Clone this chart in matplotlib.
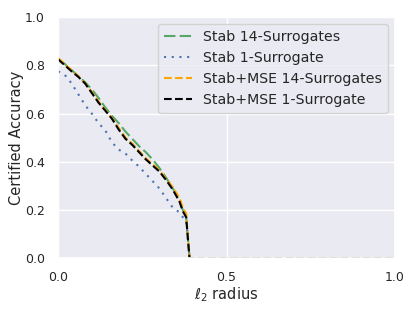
import matplotlib
matplotlib.use("Agg")
import matplotlib.pyplot as plt
import seaborn as sns

sns.set_theme(style="darkgrid")

radius = [0, 0.02, 0.04, 0.06, 0.08, 0.10, 0.12, 0.14, 0.16, 0.18, 0.20, 0.22, 0.24,
          0.26, 0.28, 0.30, 0.32, 0.34, 0.36, 0.37, 0.38, 0.39, 0.40, 1.0]
stab_14 = [0.825, 0.805, 0.78, 0.755, 0.73, 0.70, 0.665, 0.625, 0.59, 0.56, 0.525, 0.495,
           0.465, 0.44, 0.41, 0.375, 0.335, 0.29, 0.24, 0.20, 0.17, 0.0, 0.0, 0.0]
stab_1 = [0.775, 0.76, 0.725, 0.68, 0.635, 0.60, 0.56, 0.53, 0.48, 0.45, 0.434, 0.405,
          0.38, 0.35, 0.32, 0.29, 0.25, 0.21, 0.19, 0.17, 0.16, 0.0, 0.0, 0.0]
mse_14 = [0.83, 0.805, 0.78, 0.755, 0.725, 0.69, 0.65, 0.615, 0.58, 0.54, 0.50, 0.475,
          0.445, 0.415, 0.39, 0.365, 0.33, 0.295, 0.25, 0.21, 0.185, 0.0, 0.0, 0.0]
mse_1 = [0.825, 0.80, 0.775, 0.752, 0.725, 0.685, 0.645, 0.612, 0.578, 0.533, 0.495, 0.47,
         0.44, 0.41, 0.385, 0.36, 0.325, 0.285, 0.235, 0.195, 0.17, 0.0, 0.0, 0.0]

labels = ["Stab 14-Surrogates", "Stab 1-Surrogate", "Stab+MSE 14-Surrogates", "Stab+MSE 1-Surrogate"]

fig = plt.figure(figsize=(4.15, 3.11), dpi=100)
ax = fig.add_axes([0.14, 0.17, 0.812, 0.775])

ax.plot(radius, stab_14, color="#55a868", lw=1.5, dashes=(5.5, 2), label=labels[0])
ax.plot(radius, stab_1, color="#4c72b0", lw=1.5, dashes=(1, 2.7), label=labels[1])
ax.plot(radius, mse_14, color="orange", lw=1.5, linestyle="--", label=labels[2])
ax.plot(radius, mse_1, color="black", lw=1.5, linestyle="--", label=labels[3])

ax.set_xlim(0, 1)
ax.set_ylim(0, 1)
ax.set_xticks([0, 0.5, 1.0])
ax.set_yticks([0, 0.2, 0.4, 0.6, 0.8, 1.0])
ax.tick_params(labelsize=9)
ax.set_xlabel(r"$\ell_2$ radius", fontsize=10.5, labelpad=0.5)
ax.set_ylabel("Certified Accuracy", fontsize=10.5, labelpad=0.5)
ax.legend(loc="upper right", fontsize=10.2)

fig.savefig("out.png", dpi=100)
